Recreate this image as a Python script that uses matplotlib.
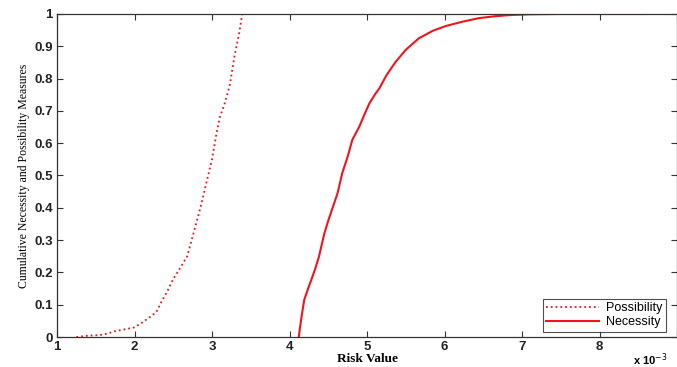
import matplotlib.pyplot as plt
import numpy as np

# risk values are in units of 1e-3
poss_x = [1.25, 1.40, 1.55, 1.64, 1.75, 1.90, 2.00, 2.10, 2.20, 2.28, 2.35, 2.42, 2.50, 2.58, 2.68,
          2.76, 2.85, 2.92, 3.00, 3.05, 3.10, 3.16, 3.23, 3.29, 3.35, 3.39]
poss_y = [0.0, 0.004, 0.006, 0.01, 0.018, 0.025, 0.03, 0.045, 0.062, 0.077, 0.11, 0.14, 0.18, 0.21, 0.25,
          0.32, 0.40, 0.47, 0.55, 0.62, 0.68, 0.72, 0.78, 0.87, 0.94, 1.0]

nec_x = [4.12, 4.13, 4.16, 4.19, 4.24, 4.28, 4.33, 4.38, 4.45, 4.50, 4.56, 4.62, 4.68, 4.75, 4.81,
         4.90, 4.96, 5.03, 5.10, 5.16, 5.25, 5.37, 5.50, 5.67, 5.85, 6.02, 6.23, 6.44, 6.65, 6.87,
         7.10, 7.47, 8.00, 8.56]
nec_y = [0.0, 0.02, 0.07, 0.115, 0.15, 0.176, 0.21, 0.249, 0.321, 0.36, 0.403, 0.445, 0.507, 0.558, 0.61,
         0.651, 0.685, 0.723, 0.75, 0.77, 0.81, 0.852, 0.889, 0.925, 0.948, 0.963, 0.976, 0.987, 0.993, 0.997,
         0.999, 1.0, 1.0, 1.0]

fig = plt.figure(figsize=(6.77, 3.67), dpi=100)
ax = fig.add_axes([0.0842, 0.0817, 0.9158, 0.8802])

red = '#f0141e'
ax.plot(poss_x, poss_y, color=red, linestyle=':', linewidth=1.3, label='Possibility')
ax.plot(nec_x, nec_y, color=red, linestyle='-', linewidth=1.5, label='Necessity')

ax.set_xlim(1, 9)
ax.set_ylim(0, 1)
ax.set_xticks(np.arange(1, 10))
ax.set_xticklabels(['1', '2', '3', '4', '5', '6', '7', '8', ''])
ax.set_yticks(np.arange(0, 1.01, 0.1))
ax.set_yticklabels(['0', '0.1', '0.2', '0.3', '0.4', '0.5', '0.6', '0.7', '0.8', '0.9', '1'])
ax.tick_params(direction='in', length=4, width=0.8, color='#333333', top=True, right=True,
               labelsize=9.5, pad=3)
for lbl in ax.get_xticklabels() + ax.get_yticklabels():
    lbl.set_fontweight('bold')
    lbl.set_fontfamily('Liberation Sans')
    lbl.set_color('#222222')
for s in ax.spines.values():
    s.set_color('#333333')
    s.set_linewidth(0.9)

ax.set_xlabel('Risk Value', fontfamily='Liberation Serif', fontweight='bold', fontsize=9.5, labelpad=0)
ax.set_ylabel('Cumulative Necessity and Possibility Measures', fontfamily='Liberation Serif',
              fontsize=8.5, labelpad=3, color='black')

fig.text(0.935, 0.006, r'x 10$^{-3}$', fontsize=8, fontfamily='Liberation Sans', fontweight='bold')

leg = ax.legend(loc='lower right', frameon=True, fancybox=False, edgecolor='#222222',
                borderpad=0.3, labelspacing=0.15, handlelength=4.2, handletextpad=0.6,
                bbox_to_anchor=(0.993, -0.004), prop={'family': 'Liberation Sans', 'size': 9})
leg.get_frame().set_linewidth(0.8)

fig.savefig('out.png', dpi=100)
